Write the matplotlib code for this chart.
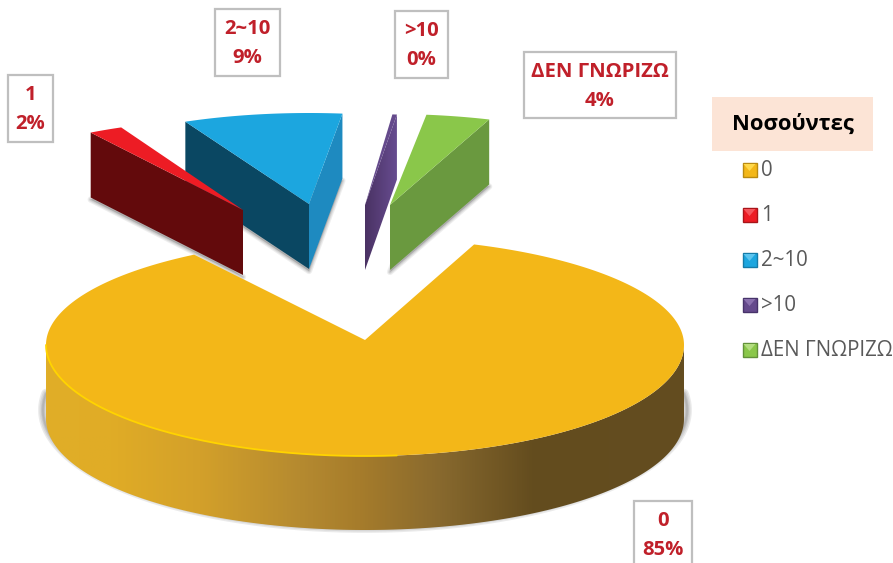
import numpy as np
import matplotlib
matplotlib.use("Agg")
import matplotlib.pyplot as plt
from matplotlib.patches import Rectangle, Polygon
from matplotlib.colors import LinearSegmentedColormap

# ---- data ----
categories = ['0', '1', '2~10', '>10', 'ΔΕΝ ΓΝΩΡΙΖΩ']
values = [85.45, 1.9, 8.85, 0.25, 3.55]
legend_title = 'Νοσούντες'

# ---- styles ----
top_colors = ['#F3B718', '#ED1C24', '#1CA6DF', '#654A8C', '#8AC74A']
left_colors = ['#6B521F', '#630A0C', '#0A4762', '#4A3263', '#6A993F']
right_colors = ['#6B521F', '#630A0C', '#1E8AC0', '#654A8C', '#6A993F']
swatch_edge = ['#B98A10', '#A81419', '#157BA8', '#47336A', '#62913A']
swatch_light = ['#FFD84A', '#F4555B', '#5CC4EE', '#8A70AE', '#B3DD80']

# ---- layout (pixel canvas) ----
W, H = 893, 563
CX, CY, RX, RY_BACK, RY_FRONT, DEPTH = 365, 345, 319, 107, 111, 74
START = 70.0
PIECE_RX, PIECE_RY, PIECE_DEPTH = 290, 91, 65
apex_offsets = [(0, -5), (-122, -135), (-56, -141), (0, -140), (25, -140)]
piece_rot = [0, -0.7, -0.3, 0.9, 0]
label_boxes = [(634, 501, 692, 575), (8, 75, 53, 142), (215, 9, 280, 76),
               (395, 11, 448, 78), (524, 52, 676, 118)]

plt.rcParams['font.family'] = ['Open Sans', 'DejaVu Sans']
fig = plt.figure(figsize=(W / 100, H / 100), dpi=100)
ax = fig.add_axes([0, 0, 1, 1])
ax.axis('off')


def gradient(path_xy, stops, zorder):
    xs = np.array(path_xy)[:, 0]
    ys = np.array(path_xy)[:, 1]
    x0, x1 = xs.min(), xs.max()
    cmap = LinearSegmentedColormap.from_list(
        'g', [((x - x0) / (x1 - x0), c) for x, c in stops])
    patch = Polygon(path_xy, closed=True, fc='none', ec='none', zorder=zorder)
    ax.add_patch(patch)
    im = ax.imshow(np.linspace(0, 1, 512)[None, :], cmap=cmap,
                   extent=(x0, x1, ys.max(), ys.min()), aspect='auto', zorder=zorder)
    im.set_clip_path(patch)


def soft_shadow(xy, zorder, dx=0, dy=2):
    pts = np.array(xy) + (dx, dy)
    for lw in [1, 2, 3, 4.5]:
        ax.add_patch(Polygon(pts, closed=True, fc='#808080', ec='#808080', lw=lw,
                             alpha=0.13, zorder=zorder, joinstyle='round'))


# slice angles, clockwise from the start angle
fractions = np.array(values) / sum(values)
spans = fractions * 360
ends = START - np.cumsum(spans)
starts = ends + spans

# exploded pieces (red sits in front of blue)
for i in range(1, len(values)):
    a0 = starts[i] + piece_rot[i]
    a1 = ends[i] + piece_rot[i]
    ax_, ay_ = CX + apex_offsets[i][0], CY + apex_offsets[i][1]
    t = np.radians(np.linspace(a0, a1, 40))
    ox = ax_ + PIECE_RX * np.cos(t)
    oy = ay_ - PIECE_RY * np.sin(t)
    top = np.vstack([[ax_, ay_], np.c_[ox, oy]])
    base = top + (0, PIECE_DEPTH)
    z = 3 - i * 0.1
    if i != 3:
        soft_shadow(base, z - 0.05)
    left = [(ax_, ay_), (ox[0], oy[0]), (ox[0], oy[0] + PIECE_DEPTH), (ax_, ay_ + PIECE_DEPTH)]
    right = [(ax_, ay_), (ox[-1], oy[-1]), (ox[-1], oy[-1] + PIECE_DEPTH), (ax_, ay_ + PIECE_DEPTH)]
    if ox[-1] > ax_:
        if i == 3:
            gradient(right, [(ax_, '#4A3263'), (ox[-1], '#674C90')], z)
        else:
            ax.add_patch(Polygon(right, closed=True, fc=right_colors[i], ec='none', zorder=z))
    if ox[0] < ax_:
        ax.add_patch(Polygon(left, closed=True, fc=left_colors[i], ec='none', zorder=z))
    ax.add_patch(Polygon(top, closed=True, fc=top_colors[i], ec='none', zorder=z + 0.01))

# main slice
t = np.radians(np.linspace(starts[0], ends[0], 400))
mx = CX + RX * np.cos(t)
my = CY - np.where(np.sin(t) > 0, RY_BACK, RY_FRONT) * np.sin(t)
front = np.radians(np.linspace(180, 360, 300))
fx = CX + RX * np.cos(front)
fy = CY - RY_FRONT * np.sin(front)
# soft shadow under the front of the disc only
sa = np.radians(np.linspace(172, 368, 300))
shadow = np.c_[CX + (RX + 3) * np.cos(sa), 410 - 118 * np.sin(sa)]
for lw in [1, 2, 3, 5, 7]:
    ax.plot(shadow[:, 0], shadow[:, 1], color='#7F7F7F', lw=lw, alpha=0.16, zorder=3.4,
            solid_capstyle='round')
rim = np.vstack([np.c_[fx, fy], np.c_[fx[::-1], fy[::-1] + DEPTH]])
gradient(rim, [(CX - RX, '#E0AE28'), (110, '#E0AC26'), (200, '#D3A02A'), (300, '#B58A30'),
               (360, '#A67C2B'), (440, '#88692E'), (535, '#634C1E'), (CX + RX, '#644D20')], 3.5)
apex = (CX + apex_offsets[0][0], CY + apex_offsets[0][1])
ax.add_patch(Polygon(np.vstack([apex, np.c_[mx, my]]), closed=True, fc=top_colors[0],
                     ec='none', zorder=4))
hl = fx < 400
ax.plot(fx[hl], fy[hl], color='#FFD400', lw=1.3, zorder=4.1, solid_capstyle='round')

# data labels
for i, (x0, y0, x1, y1) in enumerate(label_boxes):
    ax.add_patch(Rectangle((x0, y0), x1 - x0, y1 - y0, fc='white', ec='#BFBFBF', lw=1.6, zorder=6))
    xc = (x0 + x1) / 2
    ax.text(xc, y0 + 20, categories[i], color='#C0202A', fontweight='bold', fontsize=14.6,
            ha='center', va='center', zorder=7)
    ax.text(xc, y0 + 49, f'{round(fractions[i] * 100)}%', color='#C0202A', fontweight='bold',
            fontsize=14.6, ha='center', va='center', zorder=7)

# legend
ax.add_patch(Rectangle((712, 97), 161, 54, fc='#FCE4D6', ec='none', zorder=6))
ax.text(792.5, 124, legend_title, color='black', fontweight='bold', fontsize=15.8,
        ha='center', va='center', zorder=7)
for i, name in enumerate(categories):
    yc = 170 + 45 * i
    ax.add_patch(Rectangle((742.5, yc - 7), 14, 14, fc=top_colors[i], ec=swatch_edge[i], lw=1, zorder=6))
    ax.add_patch(Polygon([(743.5, yc - 6), (755.5, yc - 6), (749.5, yc + 1)], closed=True,
                         fc=swatch_light[i], ec='none', zorder=6.1))
    ax.text(761, yc + 0.5, name, color='#595959', fontsize=14.8, ha='left', va='center', zorder=7)

ax.set_xlim(0, W)
ax.set_ylim(H, 0)
fig.savefig('out.png', dpi=100)
